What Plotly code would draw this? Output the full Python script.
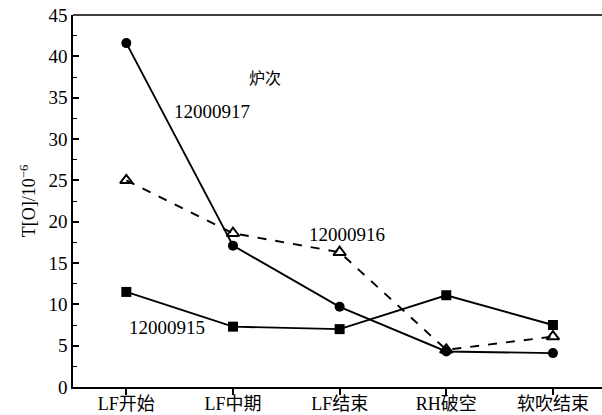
import plotly.graph_objects as go

categories = ["LF开始", "LF中期", "LF结束", "RH破空", "软吹结束"]
s917 = [41.6, 17.1, 9.7, 4.3, 4.1]
s916 = [25.0, 18.6, 16.3, 4.5, 6.1]
s915 = [11.5, 7.3, 7.0, 11.1, 7.5]
y_ticks = [0, 5, 10, 15, 20, 25, 30, 35, 40, 45]

FONT = "Liberation Serif, Noto Sans CJK SC, serif"
xi = list(range(len(categories)))

fig = go.Figure()
fig.add_trace(go.Scatter(x=xi, y=s917, mode="lines+markers",
                         line=dict(color="black", width=1.9),
                         marker=dict(symbol="circle", size=10, color="black"),
                         name="12000917"))
fig.add_trace(go.Scatter(x=xi, y=s916, mode="lines+markers",
                         line=dict(color="black", width=1.9, dash="dash"),
                         marker=dict(symbol="triangle-up-open", size=11, color="black",
                                     line=dict(width=2, color="black")),
                         name="12000916"))
fig.add_trace(go.Scatter(x=xi, y=s915, mode="lines+markers",
                         line=dict(color="black", width=1.9),
                         marker=dict(symbol="square", size=10, color="black"),
                         name="12000915"))

fig.update_layout(
    width=602, height=415,
    margin=dict(l=73, r=0, t=15, b=28, autoexpand=False),
    paper_bgcolor="white", plot_bgcolor="white",
    showlegend=False,
    font=dict(family=FONT, size=18, color="black"),
    xaxis=dict(range=[-0.5, 4.46], tickmode="array", tickvals=xi, ticktext=categories,
               showline=True, linecolor="black", linewidth=1.5, automargin=False,
               ticks="outside", ticklen=6, tickwidth=1.5, tickcolor="black",
               ticklabelstandoff=-6,
               showgrid=False, zeroline=False, tickfont=dict(size=18)),
    yaxis=dict(range=[0, 45], tickmode="array", tickvals=y_ticks, automargin=False,
               showline=True, linecolor="black", linewidth=1.5,
               ticks="inside", ticklen=6, tickwidth=1.5, tickcolor="black",
               minor=dict(ticks="inside", ticklen=4, tickwidth=1.2, tickcolor="black", dtick=2.5),
               showgrid=False, zeroline=False, tickfont=dict(size=19),
               title=dict(text="T[O]/10<sup>−6</sup>", font=dict(size=18), standoff=8)),
    shapes=[dict(type="line", xref="paper", yref="paper", x0=0, x1=1, y0=1, y1=1,
                 line=dict(color="black", width=1.5))],
    annotations=[
        dict(x=1.3, y=37.3, text="炉次", showarrow=False, font=dict(size=16)),
        dict(x=0.8, y=33.3, text="12000917", showarrow=False, font=dict(size=19)),
        dict(x=2.07, y=18.4, text="12000916", showarrow=False, font=dict(size=19)),
        dict(x=0.38, y=7.2, text="12000915", showarrow=False, font=dict(size=19)),
    ],
)
fig.write_html("out.html", config={"displayModeBar": False},
               post_script="document.body.style.margin='0';")
